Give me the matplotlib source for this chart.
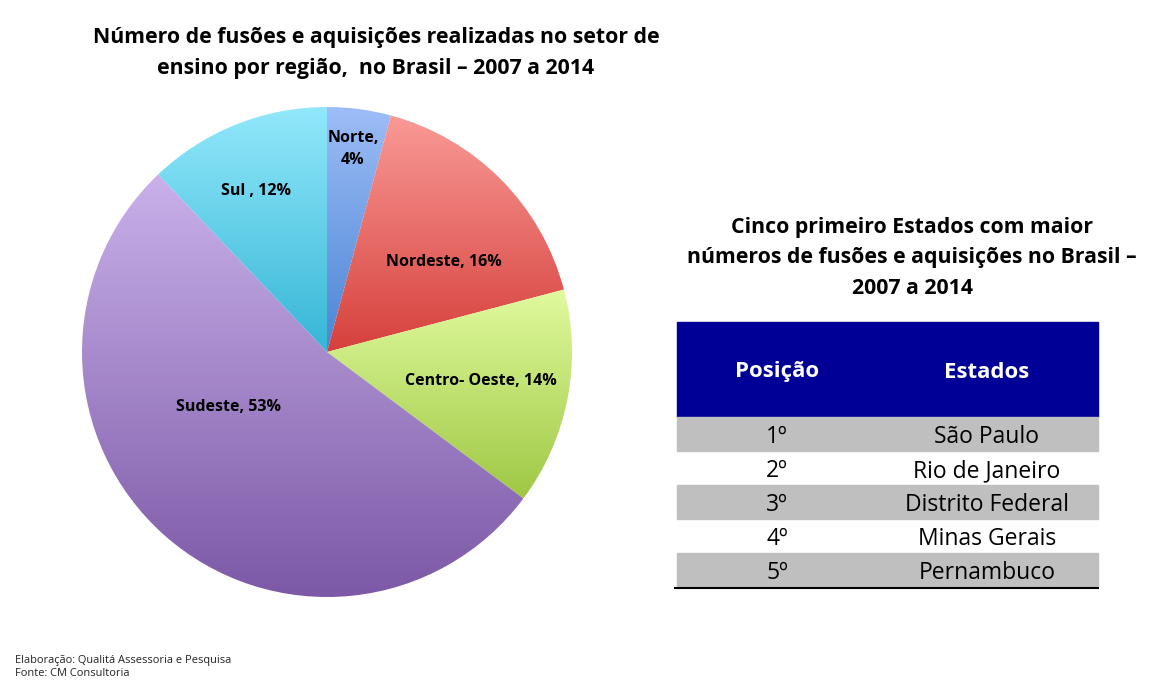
import numpy as np
import matplotlib.pyplot as plt
from matplotlib.colors import LinearSegmentedColormap

# dados do gráfico
regioes = ["Norte", "Nordeste", "Centro- Oeste", "Sudeste", "Sul"]
valores = [4.2, 16.7, 14.3, 52.7, 12.1]
rotulos = ["Norte,\n4%", "Nordeste, 16%", "Centro- Oeste, 14%", "Sudeste, 53%", "Sul , 12%"]
cores_topo = ["#9dbdf7", "#f99a96", "#e0fa9e", "#c9b1ea", "#92e8fb"]
cores_base = ["#4a85d4", "#d6403c", "#9fc844", "#7c58a6", "#36b6d6"]

posicoes = ["1º", "2º", "3º", "4º", "5º"]
estados = ["São Paulo", "Rio de Janeiro", "Distrito Federal", "Minas Gerais", "Pernambuco"]

W, H = 1150, 683
plt.rcParams['font.family'] = ['Open Sans', 'DejaVu Sans']

fig = plt.figure(figsize=(W / 100, H / 100), dpi=100)
ax = fig.add_axes([0, 0, 1, 1])

def py(y):
    # pixel y (de cima) -> coordenada do eixo
    return H - y

cx, cy, r = 327, py(352), 245
wedges, _ = ax.pie(valores, center=(cx, cy), radius=r, startangle=90,
                   counterclock=False, frame=True)

grad = np.linspace(1, 0, 256).reshape(-1, 1)
for w, c1, c2 in zip(wedges, cores_topo, cores_base):
    verts = w.get_path().vertices
    x0, x1 = verts[:, 0].min(), verts[:, 0].max()
    y0, y1 = verts[:, 1].min(), verts[:, 1].max()
    cmap = LinearSegmentedColormap.from_list("g", [c2, c1])
    im = ax.imshow(grad, cmap=cmap, extent=[x0, x1, y0, y1], aspect='auto',
                   origin='upper', zorder=1)
    im.set_clip_path(w)
    w.set_facecolor('none')
    w.set_edgecolor('none')

# rótulos das fatias
pos_rotulos = [(353, 149), (444, 262), (481, 381), (228, 407), (256, 191)]
for (x, y), t in zip(pos_rotulos, rotulos):
    ax.text(x, py(y), t, ha='center', va='center', fontsize=11.5,
            fontweight='bold', color='black', zorder=3, linespacing=1.45)

ax.text(376, py(53), "Número de fusões e aquisições realizadas no setor de\n"
        "ensino por região,  no Brasil – 2007 a 2014", ha='center', va='center',
        fontsize=15.3, fontweight='bold', linespacing=1.62)

ax.text(912, py(258), "Cinco primeiro Estados com maior\n"
        "números de fusões e aquisições no Brasil –\n2007 a 2014",
        ha='center', va='center', fontsize=15.3, fontweight='bold', linespacing=1.6)

# tabela
tx0, tx1 = 677, 1098
ax.add_patch(plt.Rectangle((tx0, py(417)), tx1 - tx0, 95, color='#000096', zorder=2))
ax.text(777, py(372), "Posição", ha='center', va='center', fontsize=16,
        fontweight='bold', color='white', zorder=3)
ax.text(987, py(372), "Estados", ha='center', va='center', fontsize=16,
        fontweight='bold', color='white', zorder=3)
row_top = 417
row_h = 34
for i, (p, e) in enumerate(zip(posicoes, estados)):
    top = row_top + i * row_h
    if i % 2 == 0:
        ax.add_patch(plt.Rectangle((tx0, py(top + row_h)), tx1 - tx0, row_h,
                                   color='#bfbfbf', zorder=2))
    ax.text(777, py(top + row_h / 2 + 3), p, ha='center', va='center', fontsize=16.5, zorder=3)
    ax.text(987, py(top + row_h / 2 + 3), e, ha='center', va='center', fontsize=16.5, zorder=3)
ax.plot([675, tx1], [py(588), py(588)], color='black', lw=1.5, zorder=3)

ax.text(15, py(660), "Elaboração: Qualitá Assessoria e Pesquisa", ha='left',
        va='center', fontsize=7.9, color='#222222')
ax.text(15, py(674), "Fonte: CM Consultoria", ha='left', va='center',
        fontsize=7.9, color='#222222')

ax.set_xlim(0, W)
ax.set_ylim(0, H)
ax.set_aspect('auto')
ax.axis('off')

fig.savefig("out.png", dpi=100, facecolor='white')
